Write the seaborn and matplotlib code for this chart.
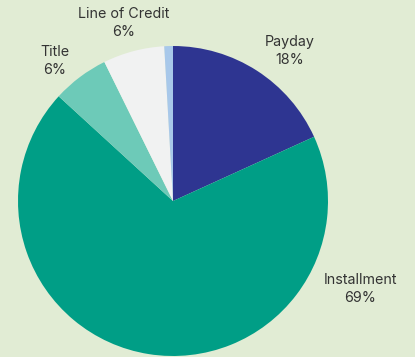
import matplotlib
matplotlib.use("Agg")
import matplotlib.pyplot as plt
import seaborn as sns

categories = ["Payday", "Installment", "Title", "Line of Credit", "Other"]
shares = [18.2, 68.6, 5.9, 6.4, 0.9]
colors = ["#2e3591", "#009e86", "#6dcab8", "#f1f2f2", "#a8c8ea"]
show_label = [True, True, True, True, False]

sns.set_theme(style="white")
plt.rcParams["font.family"] = ["Inter", "DejaVu Sans"]

bg = "#e1ecd4"
fig = plt.figure(figsize=(4.15, 3.57), dpi=100, facecolor=bg)
ax = fig.add_axes([0, 0, 1, 1])
ax.set_facecolor(bg)

cx, cy, r = 173, 357 - 201, 155
ax.pie(shares, colors=colors, startangle=90, counterclock=False,
       center=(cx, cy), radius=r, frame=True,
       wedgeprops=dict(linewidth=0))
ax.set_xlim(0, 415)
ax.set_ylim(0, 357)
ax.set_aspect("equal")
ax.axis("off")

label_pos = {
    "Payday": (290, 357 - 51),
    "Installment": (360, 357 - 289),
    "Title": (55, 357 - 61),
    "Line of Credit": (124, 357 - 23),
}
for name, v, show in zip(categories, shares, show_label):
    if not show:
        continue
    x, y = label_pos[name]
    ax.text(x, y, f"{name}\n{v:.0f}%", ha="center", va="center",
            fontsize=10.3, color="#333333", linespacing=1.4)

fig.savefig("out.png", dpi=100, facecolor=bg)
